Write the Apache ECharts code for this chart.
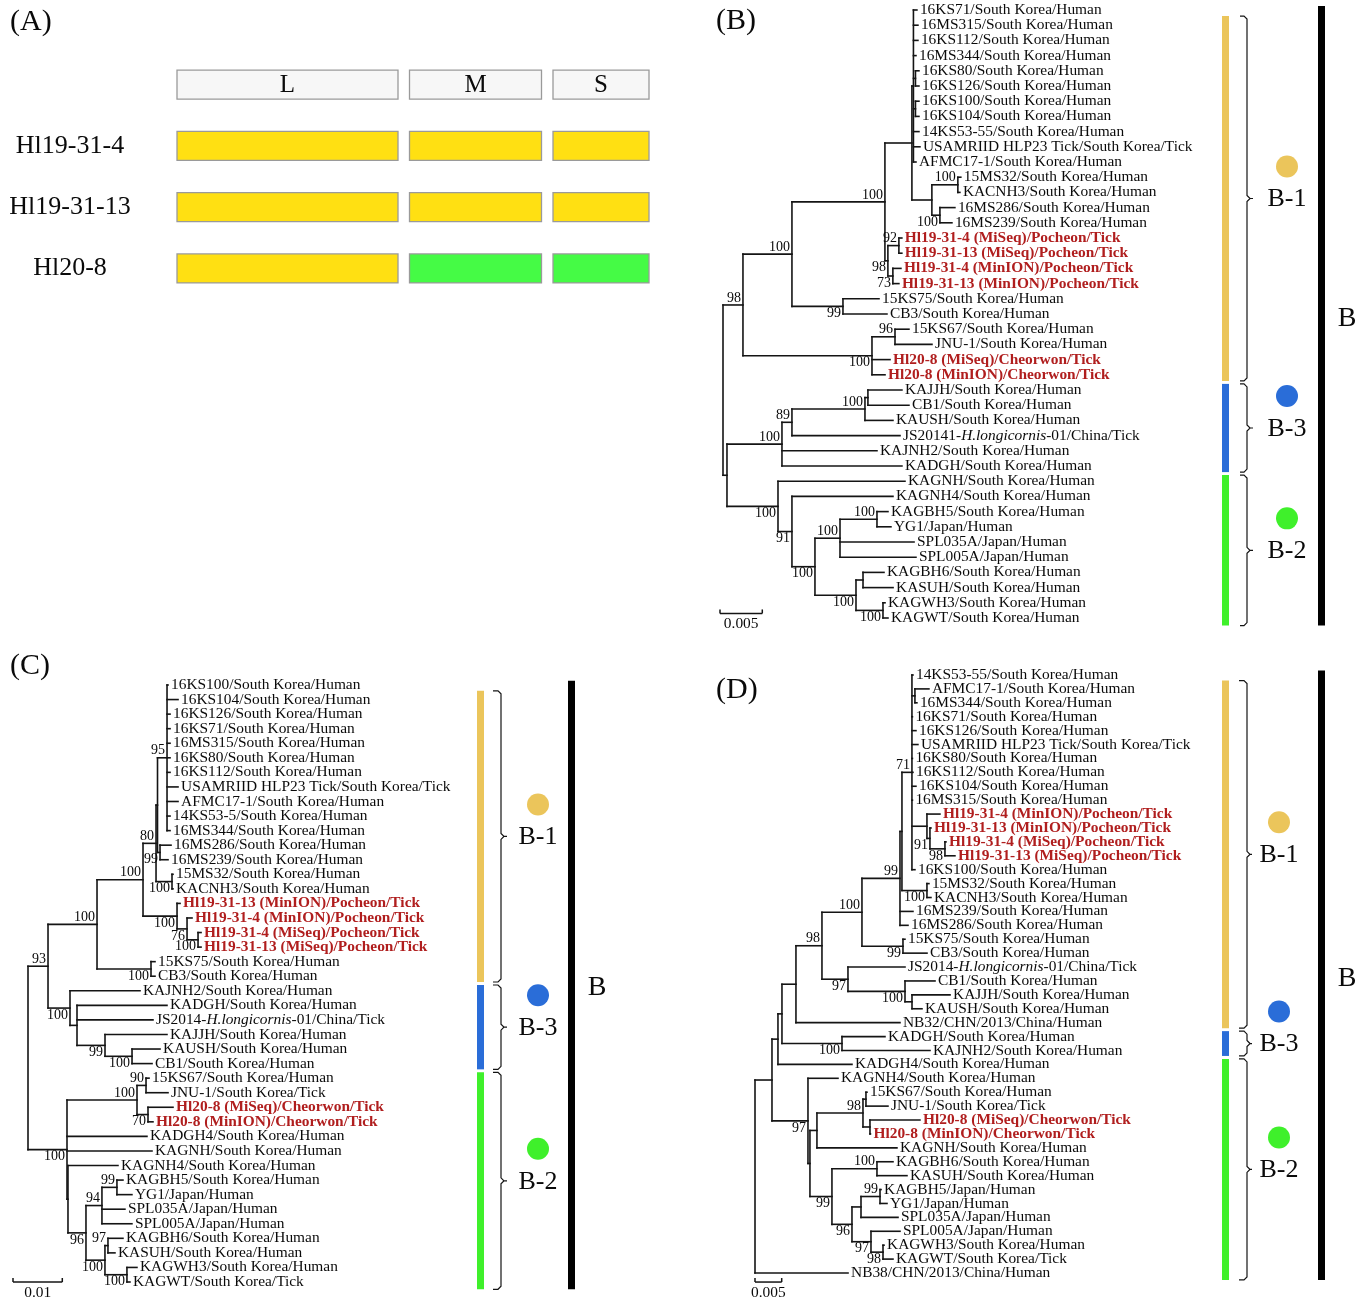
<!DOCTYPE html>
<html>
<head>
<meta charset="utf-8">
<script src="https://cdn.jsdelivr.net/npm/echarts/dist/echarts.min.js"></script>
<style>html,body{margin:0;padding:0;background:#fff}#c{width:1370px;height:1298px}</style>
</head>
<body>
<div id="c"></div>
<script>
// ===================== DATA =====================
const panelTitles = ['(A)', '(B)', '(C)', '(D)'];

// Panel A: segment genotypes per strain
const segments = ['L', 'M', 'S'];
const strains = ['Hl19-31-4', 'Hl19-31-13', 'Hl20-8'];
const segmentGenotypes = [
  ['B-1', 'B-1', 'B-1'],
  ['B-1', 'B-1', 'B-1'],
  ['B-1', 'B-2', 'B-2']
];

// Trees (Newick, branch lengths in substitutions/site, internal labels = bootstrap)
const treeB = `(
  (
    (
      (
        (
          ('16KS71/South Korea/Human':0.00041,'16MS315/South Korea/Human':0.00053,'16KS112/South Korea/Human':0.00053,'16MS344/South Korea/Human':0.0003,
           ('16KS80/South Korea/Human':0.00041,'16KS126/South Korea/Human':0.00041):0.00024,
           ('16KS100/South Korea/Human':0.00041,'16KS104/South Korea/Human':0.00041):0.00024,
           '14KS53-55/South Korea/Human':0.00065,'USAMRIID HLP23 Tick/South Korea/Tick':0.00077,'AFMC17-1/South Korea/Human':0.0003):0.00018,
          (('15MS32/South Korea/Human':0.00035,'KACNH3/South Korea/Human':0.00024)100:0.00307,
           ('16MS286/South Korea/Human':0.00177,'16MS239/South Korea/Human':0.00142)100:0.00095):0.00236
        ):0.00319,
        (('Hl19-31-4 (MiSeq)/Pocheon/Tick':0.00035,'Hl19-31-13 (MiSeq)/Pocheon/Tick':0.00035)92:0.0013,
         ('Hl19-31-4 (MinION)/Pocheon/Tick':0.00095,'Hl19-31-13 (MinION)/Pocheon/Tick':0.00071)73:0.00059)98:0.00035
      )100:0.01099,
      ('15KS75/South Korea/Human':0.00426,'CB3/South Korea/Human':0.0052)99:0.00603
    )100:0.00579,
    (('15KS67/South Korea/Human':0.00165,'JNU-1/South Korea/Human':0.00437)96:0.00272,
     'Hl20-8 (MiSeq)/Cheorwon/Tick':0.00213,'Hl20-8 (MinION)/Cheorwon/Tick':0.00154)100:0.01525
  )98:0.00236,
  (
    (
      (
        (('KAJJH/South Korea/Human':0.00402,'CB1/South Korea/Human':0.00485):0.00035,'KAUSH/South Korea/Human':0.00331)100:0.00863,
        'JS20141-H.longicornis-01/China/Tick':0.01277
      )89:0.00118,
      'KAJNH2/South Korea/Human':0.01123,'KADGH/South Korea/Human':0.01418
    )100:0.0065,
    ('KAGNH/South Korea/Human':0.01501,
      ('KAGNH4/South Korea/Human':0.01194,
        (
          (('KAGBH5/South Korea/Human':0.0013,'YG1/Japan/Human':0.00165)100:0.00437,'SPL035A/Japan/Human':0.00875,'SPL005A/Japan/Human':0.00898)100:0.00296,
          (('KAGBH6/South Korea/Human':0.00248,'KASUH/South Korea/Human':0.00355):0.00083,('KAGWH3/South Korea/Human':0.00024,'KAGWT/South Korea/Human':0.00059)100:0.00319)100:0.00485
        )100:0.00272
      )91:0.00165
    )100:0.00603
  ):0.00047
);`;

const treeC = `(
  (
    (
      (
        (
          (
            ('16KS100/South Korea/Human':0.0002,'16KS104/South Korea/Human':0.00223,'16KS126/South Korea/Human':0.00061,'16KS71/South Korea/Human':0.00061,'16MS315/South Korea/Human':0.00061,'16KS80/South Korea/Human':0.00061,'16KS112/South Korea/Human':0.00061,'USAMRIID HLP23 Tick/South Korea/Tick':0.00223,'AFMC17-1/South Korea/Human':0.00223,'14KS53-5/South Korea/Human':0.00061,'16MS344/South Korea/Human':0.00061)95:0.00193,
            ('16MS286/South Korea/Human':0.00223,'16MS239/South Korea/Human':0.00162)99:0.00051
          ):0.0003,
          ('15MS32/South Korea/Human':0.0002,'KACNH3/South Korea/Human':0.0002)100:0.00324
        )80:0.00264,
        ('Hl19-31-13 (MinION)/Pocheon/Tick':0.00061,
          ('Hl19-31-4 (MinION)/Pocheon/Tick':0.00101,
            ('Hl19-31-4 (MiSeq)/Pocheon/Tick':0.00061,'Hl19-31-13 (MiSeq)/Pocheon/Tick':0.00061)100:0.00223
          )76:0.00203
        )100:0.0069
      )100:0.00933,
      ('15KS75/South Korea/Human':0.00081,'CB3/South Korea/Human':0.00081)100:0.01095
    )100:0.00994,
    ('KAJNH2/South Korea/Human':0.0142,
      ('KADGH/South Korea/Human':0.01825,'JS2014-H.longicornis-01/China/Tick':0.01541,
        ('KAJJH/South Korea/Human':0.01257,('KAUSH/South Korea/Human':0.00568,'CB1/South Korea/Human':0.00406)100:0.00548)99:0.00568
      ):0.00142
    )100:0.00446
  )93:0.00406,
  (
    (('15KS67/South Korea/Human':0.00061,'JNU-1/South Korea/Tick':0.00446)90:0.00183,
     ('Hl20-8 (MiSeq)/Cheorwon/Tick':0.00507,'Hl20-8 (MinION)/Cheorwon/Tick':0.00101)70:0.00223)100:0.0142,
    'KADGH4/South Korea/Human':0.01622,
    'KAGNH/South Korea/Human':0.01724,
    ('KAGNH4/South Korea/Human':0.01014,
      (
        (('KAGBH5/South Korea/Human':0.00122,'YG1/Japan/Human':0.00304)99:0.00304,'SPL035A/Japan/Human':0.00466,'SPL005A/Japan/Human':0.00608)94:0.00324,
        (('KAGBH6/South Korea/Human':0.00304,'KASUH/South Korea/Human':0.00142)97:0.00061,('KAGWH3/South Korea/Human':0.00203,'KAGWT/South Korea/Tick':0.00061)100:0.00446)100:0.00385
      )96:0.00365
    ):0.0002
  )100:0.00791
);`;

const treeD = `(
  (
    (
      (
        (
          (
            (
              (
                (
                  ('14KS53-55/South Korea/Human':0.00019,
                   ('AFMC17-1/South Korea/Human':0.00262,'16MS344/South Korea/Human':0.00037):0.00056,
                   '16KS71/South Korea/Human':0.00009,'16KS126/South Korea/Human':0.00075,'USAMRIID HLP23 Tick/South Korea/Tick':0.00112,'16KS80/South Korea/Human':0.00009,'16KS112/South Korea/Human':0.00019,'16KS104/South Korea/Human':0.00075,'16MS315/South Korea/Human':0.00009,
                   ('Hl19-31-4 (MinION)/Pocheon/Tick':0.00243,
                     ('Hl19-31-13 (MinION)/Pocheon/Tick':0.00019,
                       ('Hl19-31-4 (MiSeq)/Pocheon/Tick':0.00019,'Hl19-31-13 (MiSeq)/Pocheon/Tick':0.00187)98:0.00281
                     )91:0.00056
                   ):0.00281,
                   '16KS100/South Korea/Human':0.00056
                  )71:0.00187,
                  ('15MS32/South Korea/Human':0.00037,'KACNH3/South Korea/Human':0.00075)100:0.00468
                ):0.00037,
                '16MS239/South Korea/Human':0.00243,
                '16MS286/South Korea/Human':0.0015
              )99:0.00712,
              ('15KS75/South Korea/Human':0.00037,'CB3/South Korea/Human':0.0045)99:0.00768
            )100:0.00749,
            ('JS2014-H.longicornis-01/China/Tick':0.01068,
              ('CB1/South Korea/Human':0.00562,('KAJJH/South Korea/Human':0.00712,'KAUSH/South Korea/Human':0.00187):0.00131)100:0.01068
            )97:0.00487
          )98:0.00487,
          'NB32/CHN/2013/China/Human':0.01948
        ):0.00262,
        ('KADGH/South Korea/Human':0.00805,'KAJNH2/South Korea/Human':0.01648)100:0.01124
      ):0.00075,
      'KADGH4/South Korea/Human':0.01386
    ):0.00112,
    ('KAGNH4/South Korea/Human':0.00562,
      (
        (
          (('15KS67/South Korea/Human':0.00019,'JNU-1/South Korea/Tick':0.00412):0.00056,
           ('Hl20-8 (MiSeq)/Cheorwon/Tick':0.00936,'Hl20-8 (MinION)/Cheorwon/Tick':0.00009):0.00131)98:0.00862,
          'KAGNH/South Korea/Human':0.01498
        ):0.00131,
        (
          ('KAGBH6/South Korea/Human':0.003,'KASUH/South Korea/Human':0.00562)100:0.00843,
          (
            (('KAGBH5/Japan/Human':0.00019,'YG1/Japan/Human':0.00131)99:0.00356,'SPL035A/Japan/Human':0.00693):0.00169,
            ('SPL005A/Japan/Human':0.00543,('KAGWH3/South Korea/Human':0.00019,'KAGWT/South Korea/Tick':0.00187)98:0.00225)97:0.00356
          )96:0.00375
        )99:0.00412
      ):0.00037
    )97:0.00674
  ):0.00318,
  'NB38/CHN/2013/China/Human':0.01742
);`;

const scaleBarB = 0.005;
const scaleBarC = 0.01;
const scaleBarD = 0.005;

// Clades (in tree leaf order): names and leaf counts
const cladeNames = ['B-1', 'B-3', 'B-2'];
const cladeSizesB = [25, 6, 10];
const cladeSizesC = [21, 6, 15];
const cladeSizesD = [26, 2, 16];
const genotypeLabel = 'B';

// ===================== STYLE / LAYOUT =====================
const FONT = '"Liberation Serif", "Times New Roman", Times, serif';
const COL = { line: '#141414', text: '#0a0a0a', red: '#B01E1E', boxStroke: '#9a9a9a', header: '#f7f7f7' };
const cladeColor = { 'B-1': '#EBC55B', 'B-3': '#2A6DD8', 'B-2': '#3FF02B' };
const segColor = { 'B-1': '#FFE012', 'B-2': '#45FB45' };
const LEAF_FS = 15.4, BOOT_FS = 14;

const segW = [221, 132, 96], segGap = 11.5;
const segStart = []; { let s = 0; segW.forEach((w, j) => { segStart.push(s); s += w + segGap; }); }
const segTotal = segStart[2] + segW[2];

const panels = {
  B: { newick: treeB, scale: scaleBarB, clades: cladeSizesB, rootX: 723, pxPerUnit: 8460, left: 720, right: 1365, top: 10, bottom: 618, scaleRow: -0.3,
       ann: { bar: 1222, brace: 1240, braceV: 1247, tick: 1253, dot: 1287, vbar: 1318, vlabel: 1347 } },
  C: { newick: treeC, scale: scaleBarC, clades: cladeSizesC, rootX: 28, pxPerUnit: 4930, left: 13, right: 690, top: 685, bottom: 1282, scaleRow: 0,
       ann: { bar: 477, brace: 493, braceV: 501, tick: 507, dot: 538, vbar: 568, vlabel: 597 } },
  D: { newick: treeD, scale: scaleBarD, clades: cladeSizesD, rootX: 755, pxPerUnit: 5340, left: 755, right: 1365, top: 675, bottom: 1273, scaleRow: 0.65,
       ann: { bar: 1222, brace: 1239, braceV: 1247, tick: 1252, dot: 1279, vbar: 1318, vlabel: 1347 } }
};

// ===================== TREE PARSING / LAYOUT =====================
function parseNewick(s) {
  let i = 0;
  const ws = () => { while (i < s.length && /\s/.test(s[i])) i++; };
  function label() {
    ws();
    if (s[i] === "'") { const j = s.indexOf("'", i + 1); const t = s.slice(i + 1, j); i = j + 1; return t; }
    const st = i; while (i < s.length && !/[,():;]/.test(s[i])) i++; return s.slice(st, i).trim();
  }
  function node() {
    ws();
    const n = { children: [], label: '', len: 0 };
    if (s[i] === '(') {
      i++;
      for (;;) { n.children.push(node()); ws(); if (s[i] === ',') { i++; continue; } break; }
      ws(); i++;
    }
    n.label = label(); ws();
    if (s[i] === ':') { i++; ws(); const st = i; while (i < s.length && !/[,();\s]/.test(s[i])) i++; n.len = parseFloat(s.slice(st, i)); }
    return n;
  }
  return node();
}
function layoutTree(root) {
  const nodes = []; let nLeaves = 0;
  (function walk(n, parent, d) {
    n.parent = parent; n.depth = d; nodes.push(n);
    if (!n.children.length) { n.y = nLeaves++; }
    else {
      const m = n.children.length;
      n.children.forEach((c, k) => { c.pos = k === 0 ? 'above' : (k === m - 1 ? 'below' : 'mid'); walk(c, n, d + c.len); });
      n.y = (n.children[0].y + n.children[m - 1].y) / 2;
    }
  })(root, null, 0);
  return { nodes, nLeaves };
}

function leafText(name, x, y) {
  const st = { x, y, align: 'left', verticalAlign: 'middle', fontSize: LEAF_FS, fontFamily: FONT, fill: COL.text };
  if (/^Hl/.test(name)) { st.text = name; st.fill = COL.red; st.fontWeight = 'bold'; }
  else if (name.indexOf('H.longicornis') >= 0) {
    st.text = name.replace('H.longicornis', '{i|H.longicornis}');
    st.rich = { i: { fontStyle: 'italic', fontSize: LEAF_FS, fontFamily: FONT, fill: COL.text } };
  } else st.text = name;
  return { type: 'text', style: st };
}

// ===================== BUILD OPTION =====================
const grids = [], xAxes = [], yAxes = [], series = [];

// Panel A
grids.push({ left: 177, top: 54, width: segTotal, height: 245, outerBoundsMode: 'none' });
xAxes.push({ type: 'value', gridIndex: 0, min: 0, max: segTotal, show: false });
yAxes.push({ type: 'category', gridIndex: 0, inverse: true, data: [''].concat(strains),
  axisLine: { show: false }, axisTick: { show: false }, splitLine: { show: false },
  axisLabel: { interval: 0, margin: 107, align: 'center', fontSize: 26, fontFamily: FONT, color: COL.text } });
const aData = [];
segments.forEach((s, j) => aData.push([j, 0, -1]));
strains.forEach((st, i) => segments.forEach((s, j) => aData.push([j, i + 1, cladeNames.indexOf(segmentGenotypes[i][j])])));
series.push({
  type: 'custom', coordinateSystem: 'cartesian2d', xAxisIndex: 0, yAxisIndex: 0, clip: false, silent: true,
  data: aData, encode: { x: 0, y: 1 },
  renderItem(params, api) {
    const j = api.value(0), row = api.value(1), g = api.value(2);
    const a = api.coord([segStart[j], row]), b = api.coord([segStart[j] + segW[j], row]);
    const h = 29;
    const ch = [{ type: 'rect', shape: { x: a[0], y: a[1] - h / 2, width: b[0] - a[0], height: h },
      style: { fill: g < 0 ? COL.header : segColor[cladeNames[g]], stroke: COL.boxStroke, lineWidth: 1.3 } }];
    if (g < 0) ch.push({ type: 'text', style: { text: segments[j], x: (a[0] + b[0]) / 2, y: a[1] + 1, align: 'center', verticalAlign: 'middle', fontSize: 25, fontFamily: FONT, fill: COL.text } });
    return { type: 'group', children: ch };
  }
});

// Tree panels
['B', 'C', 'D'].forEach((key, idx) => {
  const P = panels[key];
  const gi = idx + 1;
  const { nodes, nLeaves } = layoutTree(parseNewick(P.newick));
  const xmin = (P.left - P.rootX) / P.pxPerUnit, xmax = (P.right - P.rootX) / P.pxPerUnit;
  grids.push({ left: P.left, top: P.top, width: P.right - P.left, height: P.bottom - P.top, outerBoundsMode: 'none' });
  xAxes.push({ type: 'value', gridIndex: gi, min: xmin, max: xmax, show: false });
  yAxes.push({ type: 'value', gridIndex: gi, min: 0, max: nLeaves - 1, inverse: true, show: false });
  const ls = { stroke: COL.line, lineWidth: 1.6, lineCap: 'square' };

  // branches + labels
  series.push({
    type: 'custom', coordinateSystem: 'cartesian2d', xAxisIndex: gi, yAxisIndex: gi, clip: false, silent: true,
    data: nodes.map((n, i) => [n.depth, n.y, i]), encode: { x: 0, y: 1 },
    renderItem(params, api) {
      const n = nodes[api.value(2)];
      const p = api.coord([n.depth, n.y]);
      const ch = [];
      if (n.parent) {
        const q = api.coord([n.parent.depth, n.y]);
        ch.push({ type: 'line', shape: { x1: q[0], y1: p[1], x2: p[0], y2: p[1] }, style: ls });
      }
      if (n.children.length) {
        const a = api.coord([n.depth, n.children[0].y]), b = api.coord([n.depth, n.children[n.children.length - 1].y]);
        ch.push({ type: 'line', shape: { x1: p[0], y1: a[1], x2: p[0], y2: b[1] }, style: ls });
        if (n.label && n.parent) {
          const va = n.pos === 'above' ? 'bottom' : (n.pos === 'below' ? 'top' : 'middle');
          ch.push({ type: 'text', style: { text: n.label, x: p[0] - 2, y: p[1], align: 'right', verticalAlign: va, fontSize: BOOT_FS, fontFamily: FONT, fill: COL.text } });
        }
      } else {
        ch.push(leafText(n.label, p[0] + 3, p[1]));
      }
      return { type: 'group', children: ch };
    }
  });

  // scale bar
  series.push({
    type: 'custom', coordinateSystem: 'cartesian2d', xAxisIndex: gi, yAxisIndex: gi, clip: false, silent: true,
    data: [[xmin, nLeaves - 1 + P.scaleRow, P.scale]], encode: { x: 0, y: 1 },
    renderItem(params, api) {
      const a = api.coord([api.value(0), api.value(1)]), b = api.coord([api.value(0) + api.value(2), api.value(1)]);
      const st = { stroke: COL.line, lineWidth: 1.5 };
      return { type: 'group', children: [
        { type: 'line', shape: { x1: a[0], y1: a[1], x2: b[0], y2: b[1] }, style: st },
        { type: 'line', shape: { x1: a[0], y1: a[1] - 4, x2: a[0], y2: a[1] }, style: st },
        { type: 'line', shape: { x1: b[0], y1: b[1] - 4, x2: b[0], y2: b[1] }, style: st },
        { type: 'text', style: { text: String(api.value(2)), x: (a[0] + b[0]) / 2, y: a[1] + 3, align: 'center', verticalAlign: 'top', fontSize: LEAF_FS, fontFamily: FONT, fill: COL.text } }
      ] };
    }
  });

  // clade annotations
  const A = P.ann;
  const items = []; let start = 0;
  P.clades.forEach((sz, k) => { items.push([0, start, start + sz - 1, k]); start += sz; });
  series.push({
    type: 'custom', coordinateSystem: 'cartesian2d', xAxisIndex: gi, yAxisIndex: gi, clip: false, silent: true,
    data: items, encode: { x: 0, y: 1 },
    renderItem(params, api) {
      const f = api.value(1), l = api.value(2), k = api.value(3);
      const last = k === items.length - 1;
      const y0 = k === 0 ? api.coord([0, f + 0.4])[1] : api.coord([0, f - 0.5])[1] + 1.5;
      const y1 = api.coord([0, l + 0.5])[1] - (last ? 0 : 1.5);
      const ym = (y0 + y1) / 2;
      const name = cladeNames[k];
      const bx = A.brace, bv = A.braceV, bt = A.tick;
      const ch = [
        { type: 'rect', shape: { x: A.bar, y: y0, width: 7, height: y1 - y0 }, style: { fill: cladeColor[name] } },
        { type: 'polyline', shape: { points: [[bx, y0], [bv - 3, y0], [bv, y0 + 3], [bv, ym - 3], [bv + 3, ym], [bt, ym], [bv + 3, ym], [bv, ym + 3], [bv, y1 - 3], [bv - 3, y1], [bx, y1]] },
          style: { stroke: COL.line, lineWidth: 1.2, fill: null } },
        { type: 'circle', shape: { cx: A.dot, cy: ym - 32, r: 11 }, style: { fill: cladeColor[name] } },
        { type: 'text', style: { text: name, x: A.dot, y: ym + 1, align: 'center', verticalAlign: 'middle', fontSize: 26, fontFamily: FONT, fill: COL.text } }
      ];
      if (k === 0) {
        const yb0 = y0 - 10, yb1 = api.coord([0, nLeaves - 1 + 0.5])[1];
        ch.push({ type: 'rect', shape: { x: A.vbar, y: yb0, width: 7, height: yb1 - yb0 }, style: { fill: '#000' } });
        ch.push({ type: 'text', style: { text: genotypeLabel, x: A.vlabel, y: (yb0 + yb1) / 2 + 3, align: 'center', verticalAlign: 'middle', fontSize: 28, fontFamily: FONT, fill: COL.text } });
      }
      return { type: 'group', children: ch };
    }
  });
});

const titlePos = [[10, 7], [716, 6], [10, 651], [716, 675]];
const option = {
  animation: false,
  backgroundColor: '#ffffff',
  title: panelTitles.map((t, i) => ({ text: t, left: titlePos[i][0], top: titlePos[i][1], padding: 0,
    textStyle: { fontFamily: FONT, fontSize: 30, fontWeight: 'normal', color: COL.text } })),
  grid: grids, xAxis: xAxes, yAxis: yAxes, series
};
const chart = echarts.init(document.getElementById('c'), null, { renderer: 'canvas' });
chart.setOption(option);
</script>
</body>
</html>
